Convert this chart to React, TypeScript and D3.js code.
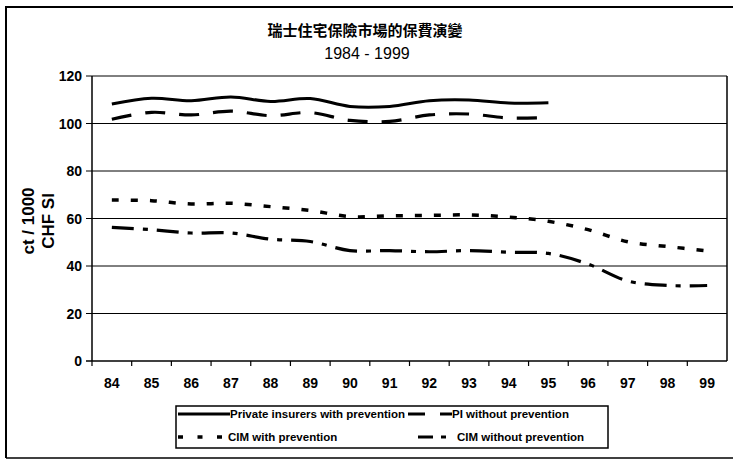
import React from "react";
import * as d3 from "d3";

const years = ["84", "85", "86", "87", "88", "89", "90", "91", "92", "93", "94", "95", "96", "97", "98", "99"];
const yTicks = [0, 20, 40, 60, 80, 100, 120];

const privateWithPrevention = [108.2, 110.6, 109.6, 111.2, 109.3, 110.5, 107.2, 107.2, 109.6, 109.9, 108.6, 108.7];
const piWithoutPrevention = [101.8, 104.7, 103.6, 105.2, 103.3, 104.6, 101.3, 100.9, 103.6, 104.0, 102.3, 102.5];
const cimWithPrevention = [67.8, 67.5, 66.1, 66.4, 65.0, 63.4, 60.8, 61.1, 61.3, 61.5, 60.6, 58.8, 55.3, 50.2, 48.2, 46.4];
const cimWithoutPrevention = [56.3, 55.3, 53.9, 53.9, 51.3, 50.3, 46.5, 46.5, 46.0, 46.5, 45.8, 45.3, 40.8, 33.7, 31.8, 31.8];

const seriesNames = [
  "Private insurers with prevention",
  "PI without prevention",
  "CIM with prevention",
  "CIM without prevention",
];

const W = 733;
const H = 460;
const left = 92;
const right = 727;
const top = 76;
const bottom = 361;

export default function App() {
  const x = d3.scaleBand<string>().domain(years).range([left, right]);
  const y = d3.scaleLinear().domain([0, 120]).range([bottom, top]);
  const cx = (i: number) => (x(years[i]) as number) + x.bandwidth() / 2;

  const line = d3
    .line<number>()
    .x((_, i) => cx(i))
    .y((d) => y(d))
    .curve(d3.curveCatmullRom.alpha(0.5));

  const series = [
    { values: privateWithPrevention, dash: undefined as string | undefined, width: 3 },
    { values: piWithoutPrevention, dash: "20,14", width: 3.2 },
    { values: cimWithPrevention, dash: "7,12", width: 3.5 },
    { values: cimWithoutPrevention, dash: "22,9,5,9", width: 3.2 },
  ];

  const font = "'Liberation Sans', Arial, sans-serif";

  // legend sample lines: start x, length, dash override, text x, baseline
  const legendItems = [
    { lx: 178, lw: 52, dash: undefined as string | undefined, ty: 418, tx: 230 },
    { lx: 408, lw: 44, dash: "17,15,12", ty: 418, tx: 452 },
    { lx: 178, lw: 45, dash: "5,14.5", ty: 441, tx: 228 },
    { lx: 418, lw: 28, dash: "15,8,5", ty: 441, tx: 457 },
  ];

  return (
    <svg
      width={W}
      height={H}
      style={{ position: "absolute", left: 0, top: 0, background: "#fff" }}
    >
      <rect x={0} y={0} width={W} height={H} fill="#fff" />
      {/* outer chart frame */}
      <path d={`M6,458 L6,7 L733,7`} fill="none" stroke="#000" strokeWidth={2} />
      <line x1={6} y1={458} x2={733} y2={458} stroke="#000" strokeWidth={1.5} />

      {/* titles */}
      <text
        x={365}
        y={36}
        textAnchor="middle"
        fontFamily="'Noto Sans CJK TC', sans-serif"
        fontWeight={700}
        fontSize={15}
      >
        瑞士住宅保險市場的保費演變
      </text>
      <text x={367} y={59} textAnchor="middle" fontFamily={font} fontSize={16}>
        1984 - 1999
      </text>

      {/* gridlines */}
      {yTicks.map((t) => (
        <g key={t}>
          <line x1={left - 6} x2={right} y1={y(t)} y2={y(t)} stroke="#000" strokeWidth={t === 0 ? 1.5 : 1} />
          <text
            x={82}
            y={y(t) + 5}
            textAnchor="end"
            fontFamily={font}
            fontSize={14}
            fontWeight={700}
          >
            {t}
          </text>
        </g>
      ))}

      {/* plot border */}
      <line x1={left} x2={left} y1={top} y2={bottom} stroke="#000" strokeWidth={1.5} />
      <line x1={right} x2={right} y1={top} y2={bottom} stroke="#000" strokeWidth={1.5} />

      {/* x ticks */}
      {years.map((yr) => (
        <line
          key={"t" + yr}
          x1={x(yr) as number}
          x2={x(yr) as number}
          y1={bottom}
          y2={bottom + 5}
          stroke="#000"
          strokeWidth={1.2}
        />
      ))}
      {years.map((yr, i) => (
        <text
          key={"l" + yr}
          x={cx(i)}
          y={388}
          textAnchor="middle"
          fontFamily={font}
          fontSize={14}
          fontWeight={700}
        >
          {yr}
        </text>
      ))}

      {/* y axis title */}
      <g transform="translate(34,221) rotate(-90)">
        <text textAnchor="middle" fontFamily={font} fontWeight={700} fontSize={17}>
          ct / 1000
        </text>
        <text y={20} textAnchor="middle" fontFamily={font} fontWeight={700} fontSize={17}>
          CHF SI
        </text>
      </g>

      {/* series */}
      {series.map((s, k) => (
        <path
          key={k}
          d={line(s.values) || ""}
          fill="none"
          stroke="#000"
          strokeWidth={s.width}
          strokeDasharray={s.dash}
        />
      ))}

      {/* legend */}
      <rect x={176} y={406} width={432} height={42} fill="none" stroke="#000" strokeWidth={1.5} />
      {legendItems.map((it, k) => (
        <g key={k}>
          <line
            x1={it.lx}
            x2={it.lx + it.lw}
            y1={it.ty - 4}
            y2={it.ty - 4}
            stroke="#000"
            strokeWidth={series[k].width}
            strokeDasharray={it.dash}
          />
          <text x={it.tx} y={it.ty} fontFamily={font} fontSize={11.5} fontWeight={700}>
            {seriesNames[k]}
          </text>
        </g>
      ))}
    </svg>
  );
}
